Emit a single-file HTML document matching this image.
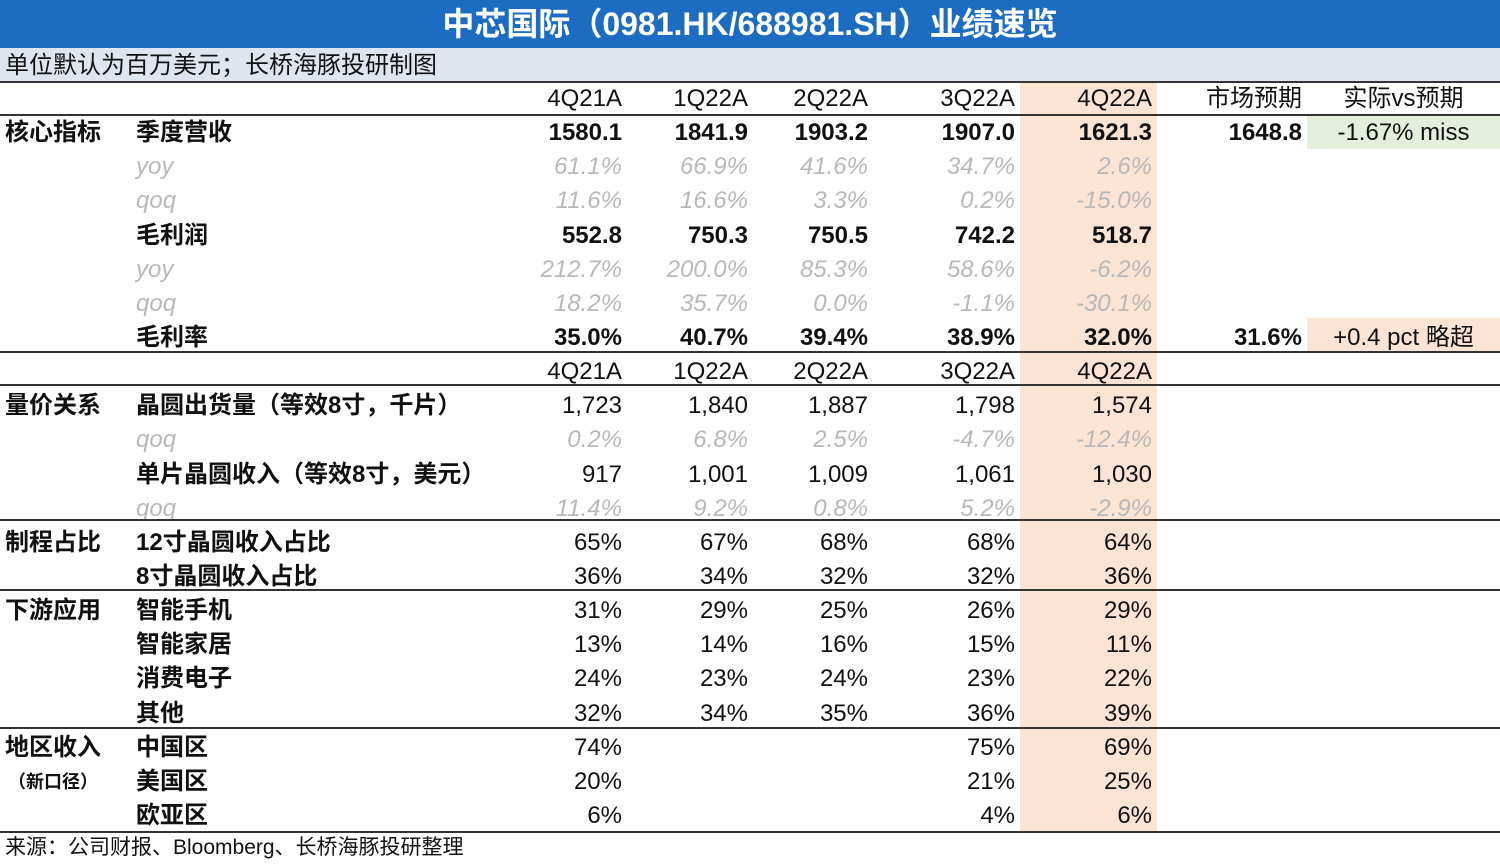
<!DOCTYPE html>
<html><head><meta charset="utf-8">
<style>
*{margin:0;padding:0;box-sizing:border-box}
body{width:1500px;height:861px;background:#fff;font-family:"Liberation Sans","Noto Sans CJK SC",sans-serif;position:relative;overflow:hidden;color:#111}
.t{position:absolute;white-space:nowrap;line-height:34px;height:34px;font-size:24px}
.r{text-align:right}
.b{font-weight:bold}
.g{font-style:italic;color:#b8b8b8}
.line{position:absolute;left:0;width:1500px;height:1.5px;background:#333}
</style></head><body>
<div style="position:absolute;left:0;top:0;width:1500px;height:48px;background:#1c6dc2;color:#fff;font-weight:bold;font-size:32px;text-align:center;line-height:48px">中芯国际（0981.HK/688981.SH）业绩速览</div>
<div style="position:absolute;left:0;top:48px;width:1500px;height:34px;background:#dfe5ef;font-size:24px;line-height:36px;padding-left:5px">单位默认为百万美元；长桥海豚投研制图</div>
<div style="position:absolute;left:1020px;top:82px;width:137px;height:750px;background:#fce4d4"></div>
<div style="position:absolute;left:1307px;top:115px;width:193px;height:34px;background:#e3eedb"></div>
<div style="position:absolute;left:1307px;top:318px;width:193px;height:34px;background:#fce4d4"></div>
<div id="tbl"></div>
<div class="line" style="top:81px"></div>
<div class="line" style="top:114px"></div>
<div class="line" style="top:351px"></div>
<div class="line" style="top:384px"></div>
<div class="line" style="top:519px"></div>
<div class="line" style="top:589px"></div>
<div class="line" style="top:727px"></div>
<div class="line" style="top:831px"></div>
<div class="t" style="left:5px;top:831px;font-size:21px">来源：公司财报、Bloomberg、长桥海豚投研整理</div>
<script>
const periods=["4Q21A","1Q22A","2Q22A","3Q22A","4Q22A"];
const rowLabels1=["","核心指标","","","","","","","","量价关系","","","","制程占比","","下游应用","","","","地区收入","（新口径）",""];
const rowLabels2=["","季度营收","yoy","qoq","毛利润","yoy","qoq","毛利率","","晶圆出货量（等效8寸，千片）","qoq","单片晶圆收入（等效8寸，美元）","qoq","12寸晶圆收入占比","8寸晶圆收入占比","智能手机","智能家居","消费电子","其他","中国区","美国区","欧亚区"];
const rowStyle=["n","b","g","g","b","g","g","b","n","n","g","n","g","n","n","n","n","n","n","n","n","n"];
const rowValues=[
periods,
["1580.1","1841.9","1903.2","1907.0","1621.3"],
["61.1%","66.9%","41.6%","34.7%","2.6%"],
["11.6%","16.6%","3.3%","0.2%","-15.0%"],
["552.8","750.3","750.5","742.2","518.7"],
["212.7%","200.0%","85.3%","58.6%","-6.2%"],
["18.2%","35.7%","0.0%","-1.1%","-30.1%"],
["35.0%","40.7%","39.4%","38.9%","32.0%"],
periods,
["1,723","1,840","1,887","1,798","1,574"],
["0.2%","6.8%","2.5%","-4.7%","-12.4%"],
["917","1,001","1,009","1,061","1,030"],
["11.4%","9.2%","0.8%","5.2%","-2.9%"],
["65%","67%","68%","68%","64%"],
["36%","34%","32%","32%","36%"],
["31%","29%","25%","26%","29%"],
["13%","14%","16%","15%","11%"],
["24%","23%","24%","23%","22%"],
["32%","34%","35%","36%","39%"],
["74%","","","75%","69%"],
["20%","","","21%","25%"],
["6%","","","4%","6%"]];
const marketVals=["市场预期","1648.8","","","","","","31.6%"];
const vsVals=["实际vs预期","-1.67% miss","","","","","","+0.4 pct 略超"];
const colRight=[622,748,868,1015,1152];
const rowTop0=82, rowH=34.14;
const tbl=document.getElementById('tbl');
function mk(text,left,top,cls,w){
  const d=document.createElement('div');
  d.className='t '+cls;
  d.textContent=text;
  d.style.top=top+'px';
  if(w){d.style.left=(left-w)+'px';d.style.width=w+'px';}else d.style.left=left+'px';
  tbl.appendChild(d);return d;
}
for(let i=0;i<rowValues.length;i++){
  const top=rowTop0+i*rowH;
  const s=rowStyle[i];
  if(rowLabels1[i]){
    const l=mk(rowLabels1[i],5,top,'b');
    if(i===20){l.style.fontSize='18px';l.style.left='8px';}
    
    
  }
  if(rowLabels2[i]){
    const l=mk(rowLabels2[i],136,top,s==='g'?'g':'b');
    
    
  }
  rowValues[i].forEach((v,j)=>{
    if(!v)return;
    const c=mk(v,colRight[j],top,'r '+(s==='b'?'b':s==='g'?'g':''),140);
    
    
  });
  if(marketVals[i]){
    const m=mk(marketVals[i],1302,top,'r '+(i>0?'b':''),150);
    
    
  }
  if(vsVals[i]){
    const m=mk(vsVals[i],1307,top,'',0);
    m.style.width='193px';m.style.textAlign='center';
    
    
  }
}
</script>
</body></html>
